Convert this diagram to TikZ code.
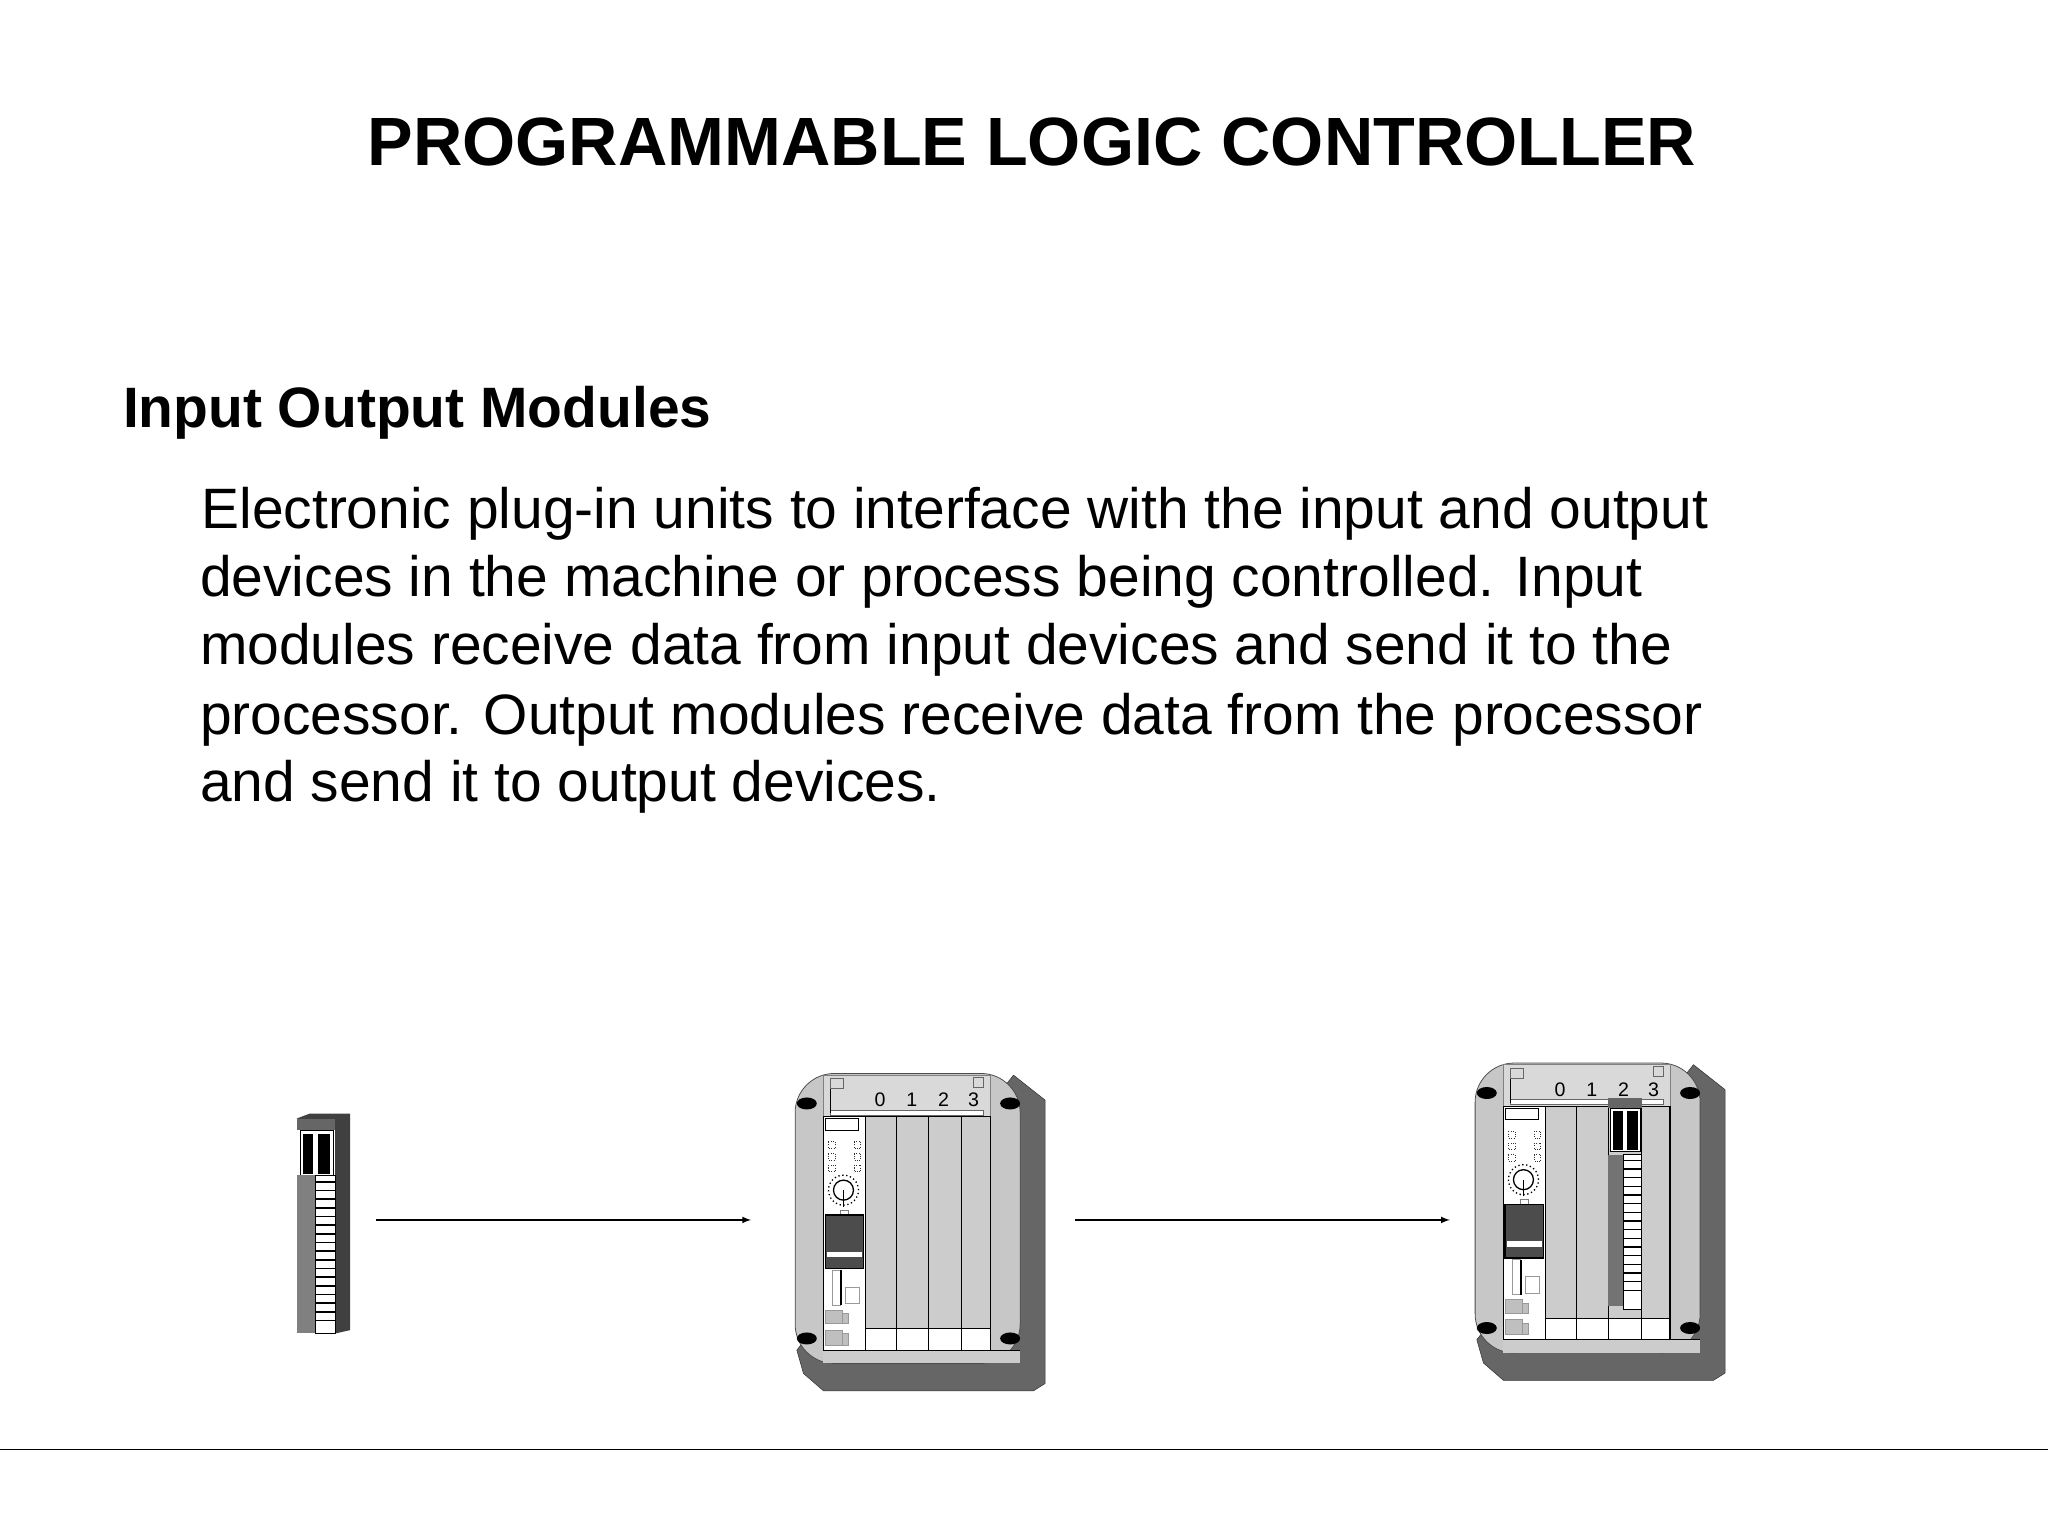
\documentclass[tikz,border=0pt]{standalone}
\usepackage{fontspec}
\setmainfont{Liberation Sans}
\begin{document}
\begin{tikzpicture}[x=1pt,y=-1pt,
  txt/.style={anchor=base west,inner sep=0pt,font=\fontsize{43.6}{50}\selectfont},
  arr/.style={-latex,line width=1.3pt},
  lg/.style={fill=black!20,draw=black,line width=0.5pt},
  wh/.style={fill=white,draw=black,line width=0.5pt},
  dk/.style={fill=black!60,draw=black!70,line width=0.5pt}]
\useasboundingbox (0,0) rectangle (1568,1176);
\node[anchor=base,inner sep=0pt,font=\fontsize{52.3}{60}\selectfont\bfseries] (title) at (790,127) {PROGRAMMABLE LOGIC CONTROLLER};
\node[anchor=base west,inner sep=0pt,font=\fontsize{43.6}{50}\selectfont\bfseries] (head) at (94,327) {Input Output Modules};
\node[txt] (l1) at (154,405) {Electronic plug-in units to interface with the input and output};
\node[txt] (l2) at (153,457) {devices in the machine or process being controlled. Input};
\node[txt] (l3) at (153,509) {modules receive data from input devices and send it to the};
\node[txt] (l4) at (153,562) {processor. Output modules receive data from the processor};
\node[txt] (l5) at (153,614) {and send it to output devices.};
\draw[line width=1pt] (0,1110) -- (1568,1110);
% small module
\begin{scope}[shift={(214.4,842.3)},scale=0.2552]
  \fill[black!75] (50,55)--(90,40)--(210,40)--(210,690)--(165,700)--(165,90)--cycle;
  \fill[black!60] (50,55) rectangle (165,90);
  \draw[wh] (60,90) rectangle (160,225);
  \fill (70,100) rectangle (100,220); \fill (115,100) rectangle (150,220);
  \fill[black!50] (50,225) rectangle (105,700);
  \draw[wh] (105,225) rectangle (165,700);
  \foreach \y in {245,271,...,680} \draw[line width=1.2pt] (105,\y) -- (165,\y);
\end{scope}
\newcommand{\myrack}[2]{%
\begin{scope}[shift={#1},scale=0.2552]
  \fill[black!60,draw=black!80] (700,75)--(795,150)--(795,1000)--(760,1022)--(130,1022)--(70,970)--(50,900)--cycle;
  \draw[fill=black!22,draw=black!70,rounded corners=30pt,line width=0.6pt] (45,70) rectangle (720,940);
  \draw[fill=black!15,draw=black!50] (130,75) rectangle (630,200);
  \draw[fill=white,draw=black!60] (150,180) rectangle (610,195);
  \draw[line width=0.8pt] (150,100) -- (150,190);
  \draw[black!60] (150,85) rectangle (190,115); \draw[black!60] (580,80) rectangle (610,110);
  \foreach \d/\x in {0/300,1/395,2/490,3/580}
    \node[font=\fontsize{15}{16}\selectfont,inner sep=0pt] at (\x,150) {\d};
  \fill[black!20] (130,900) rectangle (720,940);
  \draw[line width=0.8pt] (130,900) -- (720,900);
  \draw[wh] (130,200) rectangle (255,900);
  \draw[wh] (135,205) rectangle (235,240);
  \foreach \y in {285,320,355} {\draw[black!80,densely dotted,line width=0.8pt] (145,\y-10) rectangle (165,\y+10);
     \draw[black!80,densely dotted,line width=0.8pt] (222,\y-10) rectangle (242,\y+10);}
  \draw[line width=1pt,dotted] (190,420) circle (45pt);
  \draw[line width=1pt] (190,420) circle (30pt);
  \draw[line width=1pt] (190,420) -- (190,470);
  \draw[black!50,fill=white] (180,480) rectangle (205,505);
  \fill[black!70] (135,495) rectangle (250,655);
  \draw[line width=1pt] (135,495) rectangle (250,655);
  \fill[white] (140,605) rectangle (245,622);
  \draw[black!40] (155,660) rectangle (180,765);
  \draw[line width=1.5pt] (183,660) -- (183,765);
  \draw[black!40] (195,710) rectangle (237,760);
  \draw[black!40,fill=black!25] (135,780) rectangle (185,820);
  \draw[black!40,fill=black!25] (185,790) rectangle (205,820);
  \draw[black!40,fill=black!25] (135,840) rectangle (185,885);
  \draw[black!40,fill=black!25] (185,850) rectangle (205,885);
  \foreach \a/\b in {255/350,350/445,445/545,545/630} {
    \draw[lg] (\a,200) rectangle (\b,835);
    \draw[wh] (\a,835) rectangle (\b,900);}
  \draw[line width=1.2pt] (445,200) -- (445,900);
  \draw[line width=1pt] (630,200) -- (630,900);
  \foreach \p in {(80,160),(80,865),(690,160),(690,865)}
    \fill[black] \p ellipse (30pt and 18pt);
  #2
\end{scope}}
\myrack{(597.3,804)}{}
\myrack{(1117.9,796)}{%
  \fill[black!60] (445,175) rectangle (545,205);
  \draw[wh] (450,205) rectangle (540,335);
  \fill (460,215) rectangle (490,330); \fill (500,215) rectangle (535,330);
  \fill[black!55] (445,345) rectangle (490,800);
  \draw[wh] (490,345) rectangle (545,810);
  \foreach \y in {362,388,...,770} \draw[line width=1.2pt] (490,\y) -- (545,\y);}
\coordinate (a1) at (288,934); \coordinate (a1e) at (575,934);
\coordinate (a2) at (823,934); \coordinate (a2e) at (1110,934);
\draw[arr] (a1) -- (a1e);
\draw[arr] (a2) -- (a2e);
\end{tikzpicture}
\end{document}
